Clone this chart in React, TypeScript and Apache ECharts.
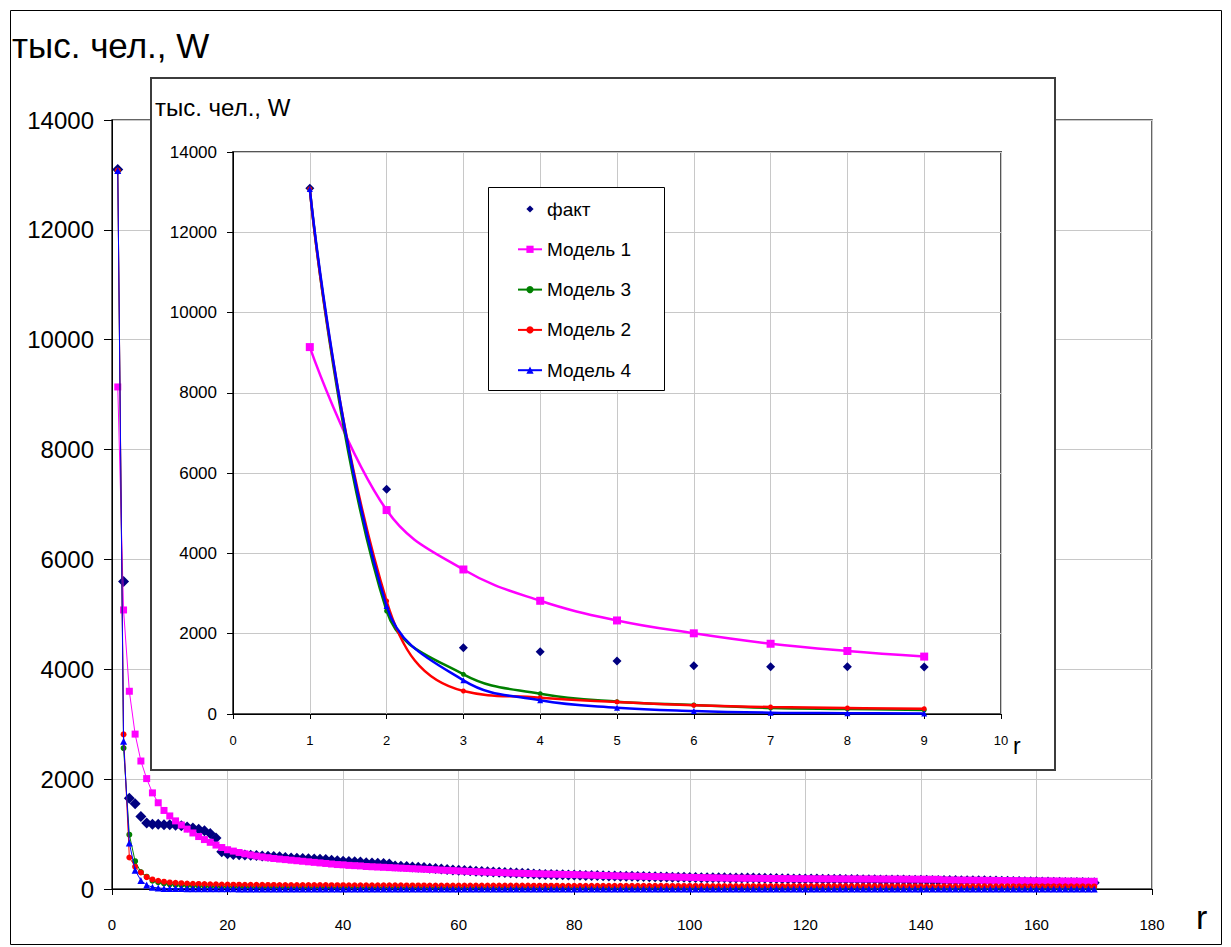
import React, { useEffect, useRef } from "react";
import * as echarts from "echarts";

// r = 1 .. 170
const fact = [
  13100, 5600, 1650, 1550, 1320, 1200, 1180, 1180, 1170, 1170,
  1160, 1150, 1130, 1110, 1090, 1060, 1010, 930, 680, 640,
  630, 625, 620, 615, 610, 600, 595, 590, 585, 575,
  565, 560, 555, 550, 545, 540, 535, 525, 515, 505,
  500, 495, 490, 480, 475, 470, 465, 455, 420, 415,
  410, 400, 395, 390, 380, 375, 365, 355, 345, 340,
  335, 330, 325, 320, 315, 310, 305, 300, 295, 290,
  285, 280, 275, 270, 265, 262, 260, 258, 256, 254,
  250, 248, 246, 244, 240, 238, 236, 234, 232, 230,
  228, 226, 224, 222, 220, 218, 216, 214, 212, 210,
  208, 207, 206, 205, 204, 203, 202, 201, 200, 199,
  198, 196, 194, 192, 190, 188, 186, 184, 182, 180,
  180, 180, 179, 178, 177, 176, 175, 173, 171, 170,
  168, 167, 166, 165, 164, 163, 162, 161, 160, 159,
  158, 157, 156, 155, 154, 153, 152, 151, 150, 149,
  148, 146, 144, 142, 140, 138, 136, 134, 132, 130,
  128, 126, 124, 122, 120, 119, 118, 117, 116, 115,
];

const model1 = [
  9140, 5080, 3600, 2820, 2330, 2010, 1750, 1570, 1430, 1330,
  1240, 1165, 1090, 1020, 955, 900, 850, 800, 755, 715,
  690, 665, 640, 620, 600, 585, 570, 555, 545, 535,
  525, 515, 505, 495, 485, 475, 465, 455, 445, 440,
  430, 425, 420, 410, 405, 400, 395, 390, 385, 380,
  375, 370, 365, 360, 355, 350, 345, 340, 335, 330,
  325, 320, 316, 312, 308, 304, 300, 296, 292, 288,
  285, 282, 279, 276, 273, 270, 268, 266, 264, 262,
  258, 255, 252, 249, 246, 243, 240, 238, 236, 234,
  232, 230, 228, 226, 224, 222, 220, 216, 214, 212,
  210, 208, 206, 204, 202, 200, 199, 198, 197, 196,
  195, 194, 193, 192, 191, 190, 189, 188, 188, 187,
  187, 186, 186, 185, 185, 184, 184, 183, 183, 182,
  182, 182, 181, 181, 180, 180, 179, 179, 178, 178,
  177, 177, 176, 165, 164, 163, 162, 161, 160, 159,
  158, 157, 156, 155, 154, 153, 152, 151, 150, 149,
  148, 147, 146, 145, 144, 143, 142, 141, 140, 140,
];

const model2 = [
  13080, 2815, 573, 406, 300, 216, 174, 150, 133, 120,
  112, 106, 100, 96, 92, 89, 86, 84, 82, 80,
  79, 78, 77, 76, 75, 75, 74, 74, 73, 73,
  72, 72, 71, 71, 70, 70, 70, 69, 69, 69,
  68, 68, 68, 67, 67, 67, 66, 66, 66, 66,
  65, 65, 65, 65, 64, 64, 64, 64, 63, 63,
  63, 63, 62, 62, 62, 62, 62, 61, 61, 61,
  61, 61, 60, 60, 60, 60, 60, 59, 59, 59,
  59, 59, 59, 58, 58, 58, 58, 58, 58, 57,
  57, 57, 57, 57, 57, 56, 56, 56, 56, 56,
  56, 56, 55, 55, 55, 55, 55, 55, 55, 54,
  54, 54, 54, 54, 54, 54, 53, 53, 53, 53,
  53, 53, 53, 53, 52, 52, 52, 52, 52, 52,
  52, 52, 51, 51, 51, 51, 51, 51, 51, 51,
  50, 50, 50, 50, 50, 50, 50, 50, 50, 49,
  49, 49, 49, 49, 49, 49, 49, 49, 48, 48,
  48, 48, 48, 48, 48, 48, 48, 48, 47, 47,
];

const model3 = [
  13080, 2566, 989, 506, 307, 224, 150, 125, 100, 85,
  75, 68, 62, 57, 53, 50, 47, 45, 43, 41,
  40, 39, 38, 37, 36, 35, 34, 34, 33, 33,
  32, 32, 31, 31, 30, 30, 30, 29, 29, 29,
  28, 28, 28, 28, 27, 27, 27, 27, 26, 26,
  26, 26, 26, 25, 25, 25, 25, 25, 24, 24,
  24, 24, 24, 24, 23, 23, 23, 23, 23, 23,
  22, 22, 22, 22, 22, 22, 22, 21, 21, 21,
  21, 21, 21, 21, 21, 20, 20, 20, 20, 20,
  20, 20, 20, 20, 19, 19, 19, 19, 19, 19,
  19, 19, 19, 19, 18, 18, 18, 18, 18, 18,
  18, 18, 18, 18, 18, 17, 17, 17, 17, 17,
  17, 17, 17, 17, 17, 17, 17, 16, 16, 16,
  16, 16, 16, 16, 16, 16, 16, 16, 16, 15,
  15, 15, 15, 15, 15, 15, 15, 15, 15, 15,
  15, 14, 14, 14, 14, 14, 14, 14, 14, 14,
  14, 14, 14, 14, 13, 13, 13, 13, 13, 13,
];

const model4 = [
  13080, 2690, 839, 341, 157, 75, 32, 20, 10, 9,
  8, 7, 6, 5, 5, 4, 4, 3, 3, 3,
  3, 2, 2, 2, 2, 2, 2, 2, 2, 2,
  2, 2, 1, 1, 1, 1, 1, 1, 1, 1,
  1, 1, 1, 1, 1, 1, 1, 1, 1, 1,
  1, 1, 1, 1, 1, 1, 1, 1, 1, 1,
  1, 1, 1, 1, 1, 1, 1, 1, 1, 1,
  1, 1, 1, 1, 1, 1, 1, 1, 1, 1,
  0, 0, 0, 0, 0, 0, 0, 0, 0, 0,
  0, 0, 0, 0, 0, 0, 0, 0, 0, 0,
  0, 0, 0, 0, 0, 0, 0, 0, 0, 0,
  0, 0, 0, 0, 0, 0, 0, 0, 0, 0,
  0, 0, 0, 0, 0, 0, 0, 0, 0, 0,
  0, 0, 0, 0, 0, 0, 0, 0, 0, 0,
  0, 0, 0, 0, 0, 0, 0, 0, 0, 0,
  0, 0, 0, 0, 0, 0, 0, 0, 0, 0,
  0, 0, 0, 0, 0, 0, 0, 0, 0, 0,
];

const seriesNames = ["факт", "Модель 1", "Модель 3", "Модель 2", "Модель 4"];
const yTitle = "тыс. чел., W";
const xTitle = "r";
const insetCount = 9; // the inset shows r = 1..9

const FONT = "'Liberation Sans', Arial, sans-serif";
const COLORS = { fact: "#000080", m1: "#FF00FF", m3: "#008000", m2: "#FF0000", m4: "#0000FF" };

const pairs = (arr: number[], n?: number) =>
  (n ? arr.slice(0, n) : arr).map((v, i) => [i + 1, v]);

export default function App() {
  const ref = useRef<HTMLDivElement>(null);

  useEffect(() => {
    if (!ref.current) return;
    const chart = echarts.init(ref.current, null, { renderer: "svg" });

    const axisBase = (fontSize: number, margin: number, tickLen: number, z: number) => ({
      z,
      axisLine: { show: true, onZero: false, lineStyle: { color: "#000", width: 1 } },
      axisTick: { show: true, inside: false, length: tickLen, lineStyle: { color: "#000", width: 1 } },
      splitLine: { show: true, lineStyle: { color: "#c8c8c8", width: 1 } },
      axisLabel: {
        show: true, color: "#000", fontSize, fontFamily: FONT, margin,
        formatter: (v: number) => String(v),
      },
    });

    const option: any = {
      animation: false,
      backgroundColor: "#fff",
      grid: [
        {
          left: 112, right: 79, top: 120, bottom: 58,
          show: true, borderColor: "#333", borderWidth: 1.5, backgroundColor: "transparent",
          outerBoundsMode: "none", containLabel: false, z: 0,
        },
        {
          left: 233, right: 230, top: 152, bottom: 233,
          show: true, borderColor: "#555", borderWidth: 2, backgroundColor: "transparent",
          outerBoundsMode: "none", containLabel: false, z: 21,
        },
      ],
      xAxis: [
        { type: "value", gridIndex: 0, min: 0, max: 180, interval: 20, ...axisBase(15, 28, 6, 1) },
        { type: "value", gridIndex: 1, min: 0, max: 10, interval: 1, ...axisBase(13, 20, 5, 22) },
      ],
      yAxis: [
        { type: "value", gridIndex: 0, min: 0, max: 14000, interval: 2000, ...axisBase(24, 18, 8, 1) },
        { type: "value", gridIndex: 1, min: 0, max: 14000, interval: 2000, ...axisBase(17, 16, 6, 22) },
      ],
      legend: {
        data: [
          { name: seriesNames[0], lineStyle: { opacity: 0, width: 0 } },
          seriesNames[1], seriesNames[2], seriesNames[3], seriesNames[4],
        ],
        orient: "vertical",
        left: 517,
        top: 199,
        padding: 0,
        itemWidth: 24,
        itemHeight: 9,
        itemGap: 20.3,
        selectedMode: false,
        z: 50,
        textStyle: { color: "#000", fontSize: 19, fontFamily: FONT, lineHeight: 20 },
      },
      graphic: [
        { type: "rect", z: 0, silent: true, shape: { x: 10.5, y: 10.5, width: 1211, height: 934 }, style: { fill: "none", stroke: "#000", lineWidth: 1 } },
        { type: "rect", z: 20, silent: true, shape: { x: 151, y: 78, width: 904, height: 692 }, style: { fill: "#fff", stroke: "#3c3c3c", lineWidth: 2 } },
        { type: "rect", z: 45, silent: true, shape: { x: 488.5, y: 187.5, width: 176, height: 203 }, style: { fill: "#fff", stroke: "#000", lineWidth: 1 } },
        { type: "text", z: 60, x: 12, y: 45, style: { text: yTitle, fontSize: 35, fontFamily: FONT, fill: "#000", verticalAlign: "middle" } },
        { type: "text", z: 60, x: 155, y: 107, style: { text: yTitle, fontSize: 24, fontFamily: FONT, fill: "#000", verticalAlign: "middle" } },
        { type: "text", z: 60, x: 1196, y: 917, style: { text: xTitle, fontSize: 34, fontFamily: FONT, fill: "#000", verticalAlign: "middle" } },
        { type: "text", z: 60, x: 1013, y: 746, style: { text: xTitle, fontSize: 23, fontFamily: FONT, fill: "#000", verticalAlign: "middle" } },
      ],
      series: [
        // inset (listed first so the legend takes its icons from them)
        { type: "line", name: seriesNames[0], xAxisIndex: 1, yAxisIndex: 1, z: 30, data: pairs(fact, insetCount), symbol: "diamond", symbolSize: 9, lineStyle: { width: 0, opacity: 0 }, itemStyle: { color: COLORS.fact, opacity: 1 } },
        { type: "line", name: seriesNames[1], xAxisIndex: 1, yAxisIndex: 1, z: 31, data: pairs(model1, insetCount), smooth: 0.4, symbol: "rect", symbolSize: 8, lineStyle: { color: COLORS.m1, width: 2.5 }, itemStyle: { color: COLORS.m1 } },
        { type: "line", name: seriesNames[2], xAxisIndex: 1, yAxisIndex: 1, z: 32, data: pairs(model3, insetCount), smooth: 0.4, symbol: "circle", symbolSize: 5, lineStyle: { color: COLORS.m3, width: 2.5 }, itemStyle: { color: COLORS.m3 } },
        { type: "line", name: seriesNames[3], xAxisIndex: 1, yAxisIndex: 1, z: 33, data: pairs(model2, insetCount), smooth: 0.45, smoothConstraint: false, symbol: "circle", symbolSize: 5, lineStyle: { color: COLORS.m2, width: 2.5 }, itemStyle: { color: COLORS.m2 } },
        { type: "line", name: seriesNames[4], xAxisIndex: 1, yAxisIndex: 1, z: 34, data: pairs(model4, insetCount), smooth: 0.4, symbol: "triangle", symbolSize: 6, lineStyle: { color: COLORS.m4, width: 2.5 }, itemStyle: { color: COLORS.m4 } },
        // main chart
        { type: "scatter", name: seriesNames[0], xAxisIndex: 0, yAxisIndex: 0, z: 2, data: pairs(fact), symbol: "diamond", symbolSize: 11, itemStyle: { color: COLORS.fact, opacity: 1 } },
        { type: "line", name: seriesNames[1], xAxisIndex: 0, yAxisIndex: 0, z: 3, data: pairs(model1), symbol: "rect", symbolSize: 7, lineStyle: { color: COLORS.m1, width: 1 }, itemStyle: { color: COLORS.m1 } },
        { type: "line", name: seriesNames[2], xAxisIndex: 0, yAxisIndex: 0, z: 4, data: pairs(model3), symbol: "circle", symbolSize: 6, lineStyle: { color: COLORS.m3, width: 1 }, itemStyle: { color: COLORS.m3 } },
        { type: "line", name: seriesNames[3], xAxisIndex: 0, yAxisIndex: 0, z: 5, data: pairs(model2), symbol: "circle", symbolSize: 6, lineStyle: { color: COLORS.m2, width: 1 }, itemStyle: { color: COLORS.m2 } },
        { type: "line", name: seriesNames[4], xAxisIndex: 0, yAxisIndex: 0, z: 6, data: pairs(model4), symbol: "triangle", symbolSize: 7, lineStyle: { color: COLORS.m4, width: 1 }, itemStyle: { color: COLORS.m4 } },
      ],
    };

    chart.setOption(option);
    return () => chart.dispose();
  }, []);

  return (
    <div
      ref={ref}
      style={{ position: "absolute", left: 0, top: 0, width: 1231, height: 947, background: "#fff" }}
    />
  );
}
